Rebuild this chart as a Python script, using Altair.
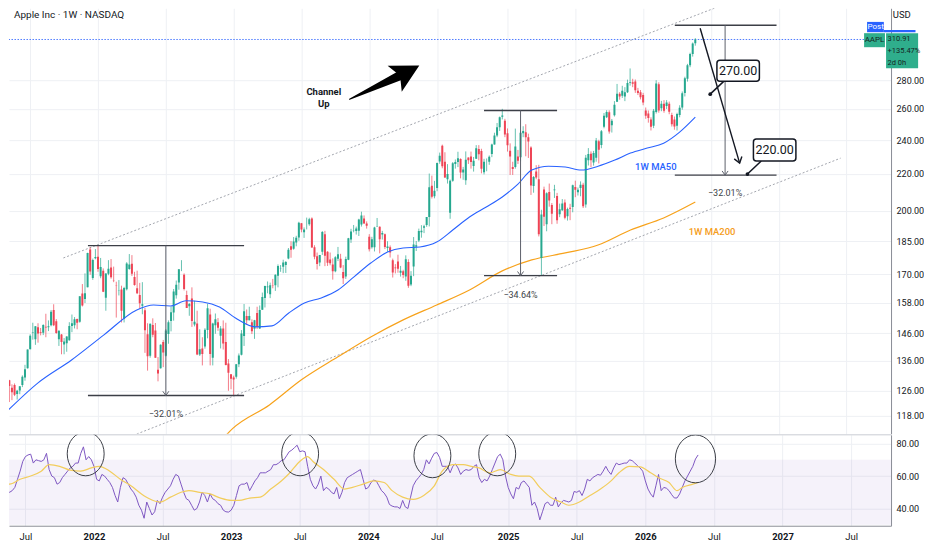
import altair as alt
import pandas as pd

# ---------------------------------------------------------------- data
START = "2021-04-26"  # first weekly bar (Monday)

# weekly bars: (open, high, low, close)
ohlc_2021 = [
    (134.8, 137.1, 131.1, 131.5), (132.0, 134.1, 126.7, 130.2), (129.4, 129.5, 122.3, 127.5),
    (126.9, 128.0, 122.9, 125.4), (127.8, 128.3, 124.2, 124.6), (124.9, 126.2, 123.1, 125.9),
    (126.0, 127.4, 124.8, 127.4), (127.8, 131.0, 127.1, 130.5), (130.3, 134.6, 129.2, 133.1),
    (133.4, 140.0, 133.3, 140.0), (140.1, 145.6, 140.1, 145.1), (146.2, 150.0, 143.6, 146.4),
    (143.8, 148.7, 141.7, 148.6), (148.3, 149.8, 142.5, 145.9), (146.4, 148.0, 145.2, 146.1),
    (146.2, 149.4, 145.3, 149.1), (148.5, 153.5, 144.5, 148.2), (148.3, 150.9, 146.8, 148.6),
    (149.0, 155.0, 148.6, 154.3), (155.0, 157.3, 148.7, 149.0), (150.6, 151.4, 145.8, 146.1),
    (143.8, 147.1, 141.3, 146.9), (145.5, 145.7, 138.3, 142.7), (141.8, 144.2, 138.3, 142.9),
    (142.3, 144.9, 139.2, 144.8), (143.4, 150.2, 143.2, 148.7), (148.7, 153.2, 146.4, 149.8),
    (149.0, 152.2, 147.8, 151.3), (151.4, 151.6, 147.5, 150.0), (150.4, 160.6, 150.0, 160.6),
    (161.7, 165.7, 156.4, 156.8), (159.4, 170.3, 157.8, 161.8), (164.3, 179.6, 164.3, 179.5),
    (181.1, 182.1, 169.7, 171.1), (168.3, 176.9, 167.5, 176.3), (177.1, 181.3, 176.6, 177.6),
]
ohlc_2022 = [
    (177.8, 182.9, 171.0, 172.2), (169.1, 177.2, 168.2, 173.1), (171.5, 172.5, 162.3, 162.4),
    (160.0, 170.4, 154.7, 170.3), (170.2, 176.2, 169.5, 172.4), (172.9, 176.7, 168.0, 168.6),
    (167.4, 173.3, 166.5, 167.3), (165.0, 166.7, 152.0, 164.9), (163.1, 167.4, 160.9, 163.2),
    (163.4, 165.0, 150.1, 154.7), (151.5, 164.5, 150.1, 164.0), (163.5, 175.3, 163.0, 174.7),
    (172.2, 179.0, 171.9, 174.3), (174.6, 178.5, 169.2, 170.1), (168.7, 171.0, 165.0, 165.3),
    (163.9, 171.5, 161.5, 161.8), (161.1, 166.2, 155.4, 157.7), (156.7, 166.5, 153.3, 157.3),
    (154.9, 155.8, 138.8, 147.1), (145.6, 149.8, 132.6, 137.6), (137.8, 149.7, 137.1, 149.6),
    (149.1, 151.7, 144.5, 145.4), (147.0, 149.9, 137.0, 137.1), (132.9, 137.3, 129.0, 131.6),
    (133.4, 141.9, 133.3, 141.7), (142.7, 143.5, 133.8, 138.9), (137.8, 147.6, 137.5, 147.0),
    (145.7, 150.9, 142.1, 150.2), (150.7, 156.3, 146.7, 154.1), (154.0, 163.6, 150.8, 162.5),
    (161.0, 167.2, 159.6, 165.4), (166.4, 172.2, 163.3, 172.1), (171.5, 176.2, 171.3, 171.5),
    (169.7, 170.3, 163.0, 163.6), (161.1, 162.9, 155.8, 155.8), (156.5, 157.8, 152.7, 157.4),
    (159.6, 164.3, 148.4, 150.7), (149.3, 158.7, 148.6, 150.4), (149.7, 154.7, 138.0, 138.2),
    (138.2, 147.5, 137.7, 140.1), (140.4, 144.5, 134.4, 138.4), (141.1, 147.9, 140.3, 147.3),
    (147.2, 157.5, 144.1, 155.7), (153.2, 155.5, 134.4, 138.4), (137.1, 150.0, 134.4, 149.7),
    (149.0, 153.6, 145.8, 151.3), (150.2, 151.8, 146.9, 148.1), (145.1, 148.7, 140.4, 147.8),
    (147.8, 150.9, 140.0, 142.2), (142.7, 150.0, 134.4, 134.5), (135.1, 136.6, 125.9, 131.9),
    (131.4, 131.4, 126.4, 129.9),
]
ohlc_2023 = [
    (130.3, 130.9, 124.2, 129.6), (130.5, 134.9, 129.9, 134.8), (134.8, 138.6, 133.8, 137.9),
    (138.1, 147.2, 137.9, 145.9), (145.0, 157.4, 141.3, 154.5), (152.6, 155.2, 149.2, 151.0),
    (151.0, 156.3, 150.9, 152.6), (150.2, 151.3, 145.7, 146.7), (147.7, 151.1, 143.9, 151.0),
    (153.8, 156.3, 147.6, 148.5), (147.8, 156.8, 147.6, 155.0), (155.1, 162.1, 155.0, 160.3),
    (159.9, 165.0, 156.0, 164.9), (164.3, 166.8, 161.8, 164.7), (161.4, 166.3, 159.8, 165.2),
    (165.1, 167.9, 163.9, 165.0), (165.2, 169.9, 162.8, 169.7), (169.3, 174.3, 164.3, 173.6),
    (172.5, 174.0, 171.0, 172.6), (173.2, 176.4, 170.4, 175.2), (174.0, 175.8, 170.5, 175.4),
    (177.0, 181.8, 176.6, 181.0), (182.6, 185.0, 177.3, 181.0), (181.5, 187.0, 181.0, 184.9),
    (184.4, 187.6, 182.6, 186.7), (186.8, 194.5, 185.2, 194.0), (193.8, 193.9, 189.3, 190.7),
    (189.3, 191.7, 186.6, 190.7), (191.9, 196.6, 190.7, 191.9), (193.3, 196.5, 192.5, 195.8),
    (196.1, 196.7, 181.9, 182.0), (182.1, 183.1, 176.6, 177.8), (178.0, 179.7, 172.0, 174.5),
    (175.1, 178.6, 173.5, 178.6), (180.1, 189.9, 178.6, 189.5), (188.3, 190.0, 173.5, 178.2),
    (180.1, 180.3, 173.6, 175.0), (176.5, 179.7, 173.9, 174.8), (174.2, 177.0, 167.6, 171.2),
    (171.2, 178.0, 170.8, 177.5), (176.8, 182.3, 175.8, 178.9), (176.8, 179.1, 172.6, 172.9),
    (170.9, 174.0, 165.7, 168.2), (169.0, 177.8, 167.9, 176.7), (176.4, 186.6, 176.2, 186.4),
    (185.8, 191.0, 184.2, 189.7), (189.9, 192.9, 189.3, 190.0), (189.9, 192.1, 188.2, 191.2),
    (190.0, 196.0, 187.5, 195.7), (193.1, 199.6, 192.1, 197.6), (196.1, 197.7, 193.5, 193.6),
    (193.6, 194.7, 191.1, 192.5),
]
ohlc_2024 = [
    (187.2, 188.4, 180.2, 181.2), (182.1, 187.1, 181.5, 185.9), (182.2, 192.0, 180.2, 191.6),
    (192.3, 196.4, 191.9, 192.4), (192.0, 192.2, 179.3, 185.9), (188.2, 190.0, 185.8, 188.9),
    (188.4, 188.7, 181.3, 182.3), (181.8, 185.0, 180.0, 182.5), (182.2, 183.0, 177.4, 179.7),
    (176.2, 176.9, 168.5, 170.7), (172.9, 174.4, 170.3, 172.6), (175.6, 178.7, 170.6, 172.3),
    (170.6, 173.6, 168.9, 171.5), (171.2, 171.9, 168.2, 169.6), (169.0, 178.4, 167.1, 176.6),
    (175.4, 176.6, 164.1, 165.0), (165.5, 171.3, 164.8, 169.3), (173.4, 187.0, 169.1, 183.4),
    (182.4, 185.1, 180.4, 183.1), (185.4, 191.1, 184.6, 189.9), (189.3, 192.8, 186.7, 190.0),
    (191.5, 193.0, 188.9, 192.3), (192.9, 196.9, 192.0, 196.9), (196.9, 220.2, 192.2, 212.5),
    (213.4, 219.0, 206.5, 207.5), (207.7, 216.1, 206.6, 210.6), (212.1, 226.5, 210.4, 226.3),
    (227.1, 232.4, 225.8, 230.5), (236.5, 237.2, 223.2, 224.3), (227.0, 232.6, 217.7, 218.0),
    (217.0, 225.6, 214.6, 219.9), (199.1, 216.8, 196.0, 216.2), (216.1, 226.8, 215.6, 226.1),
    (225.7, 228.3, 223.0, 226.8), (226.8, 232.9, 223.9, 229.0), (228.6, 229.0, 217.5, 220.8),
    (220.8, 224.0, 216.7, 222.5), (216.5, 233.1, 213.9, 228.2), (229.5, 229.5, 225.7, 227.8),
    (230.0, 233.0, 223.0, 226.8), (224.5, 229.8, 221.3, 227.6), (228.7, 236.9, 228.6, 235.0),
    (234.5, 236.9, 227.8, 231.4), (233.3, 234.7, 220.3, 222.9), (221.0, 228.7, 219.7, 227.0),
    (225.0, 228.9, 221.5, 225.0), (227.0, 230.7, 225.2, 229.9), (231.5, 237.8, 229.7, 237.3),
    (237.3, 244.6, 237.2, 242.8), (242.9, 250.8, 241.8, 248.1), (248.0, 255.0, 245.7, 254.5),
    (254.8, 260.1, 253.1, 255.6), (252.2, 253.5, 241.8, 243.4),
]
ohlc_2025 = [
    (244.3, 247.3, 233.0, 236.9), (233.5, 238.0, 219.4, 230.0), (224.0, 227.0, 219.4, 222.8),
    (224.0, 247.2, 223.0, 236.0), (230.0, 234.0, 225.7, 227.6), (229.6, 245.6, 227.2, 244.6),
    (244.2, 248.7, 241.8, 245.6), (244.9, 250.0, 230.2, 241.8), (241.8, 244.0, 229.2, 239.1),
    (235.5, 236.2, 208.4, 213.5), (213.3, 218.8, 209.6, 218.3), (221.4, 225.0, 217.0, 217.9),
    (217.0, 225.2, 187.3, 188.4), (177.2, 200.6, 169.2, 198.2), (211.4, 212.9, 192.4, 197.0),
    (193.3, 209.8, 189.8, 209.3), (210.0, 214.6, 202.2, 205.4), (203.1, 204.1, 193.3, 198.5),
    (211.0, 213.9, 206.8, 211.3), (207.9, 209.5, 193.5, 195.3), (198.3, 203.8, 196.8, 200.9),
    (200.3, 206.2, 200.0, 203.9), (204.4, 206.0, 195.7, 196.5), (197.3, 201.7, 195.1, 201.0),
    (201.6, 203.7, 195.3, 201.1), (202.0, 214.0, 199.3, 213.6), (212.7, 216.2, 207.2, 211.2),
    (209.9, 212.4, 208.1, 211.2), (212.1, 215.8, 207.7, 213.9), (214.0, 215.0, 201.5, 202.4),
    (203.4, 231.0, 201.7, 229.4), (227.9, 235.1, 224.8, 231.6), (231.7, 233.1, 223.8, 227.8),
    (226.5, 233.4, 224.7, 232.1), (229.3, 241.3, 227.0, 239.7), (239.3, 240.2, 226.0, 234.1),
    (237.0, 246.3, 235.0, 245.5), (248.3, 257.3, 247.4, 255.5), (254.6, 259.2, 254.0, 258.0),
    (257.9, 259.1, 244.0, 245.3), (249.4, 253.4, 244.7, 252.3), (255.9, 265.3, 255.0, 262.8),
    (264.9, 277.3, 264.7, 270.4), (270.4, 271.5, 266.3, 268.5), (269.0, 276.0, 267.5, 272.4),
    (268.5, 275.0, 265.3, 271.5), (271.5, 280.4, 270.9, 278.0), (278.0, 288.6, 276.1, 278.6),
    (278.5, 281.0, 275.0, 277.5), (279.0, 280.5, 271.0, 272.8), (272.5, 274.5, 269.5, 271.0),
    (271.5, 273.0, 266.5, 268.0),
]
ohlc_2026 = [
    (269.5, 271.0, 262.5, 264.3), (259.0, 261.0, 253.5, 255.5), (257.0, 259.0, 251.0, 254.0),
    (253.0, 254.5, 246.0, 248.3), (249.0, 260.0, 247.5, 258.8), (258.0, 280.0, 257.0, 277.7),
    (277.0, 278.5, 257.5, 259.0), (260.5, 265.5, 258.5, 263.6), (263.5, 266.0, 257.5, 258.8),
    (262.0, 266.0, 260.0, 264.3), (263.6, 265.0, 256.5, 258.1), (256.0, 257.5, 248.5, 250.0),
    (253.0, 255.0, 246.5, 248.5), (249.0, 257.5, 246.0, 256.7), (256.0, 262.5, 254.5, 260.9),
    (261.0, 272.0, 259.5, 270.8), (271.0, 282.5, 268.5, 281.4), (281.0, 292.0, 279.0, 291.0),
    (291.0, 300.5, 289.5, 299.5), (299.5, 308.5, 297.5, 307.8), (308.0, 312.0, 306.0, 310.91),
]

# weekly RSI(14), one value per bar
rsi_weekly = [
    57, 55, 52, 51, 50, 51, 53, 58, 63, 69,
    72, 73, 73.5, 68, 70, 69.5, 69, 70, 74, 64,
    60, 59, 55, 56, 59, 61, 63, 65, 66, 68,
    68, 74, 78, 70, 72, 70, 66, 58, 57, 61,
    60, 58, 56, 53, 48, 44, 53, 59, 58, 55,
    52, 50, 47, 42, 39, 34, 44, 40, 36, 38,
    45, 43, 47, 50, 52, 54, 58, 61, 60, 55,
    50, 46, 45, 42, 39, 40, 44, 50, 48, 44,
    49, 46, 45, 43, 42, 39, 38, 37.8, 39, 42,
    48, 54, 55, 55, 56, 51, 54, 57, 59, 62,
    62, 62, 63, 64, 67, 67, 68, 69.5, 70, 72.5,
    75, 76, 77.5, 79, 75, 75.5, 75, 66, 58, 54,
    52, 55, 60, 51, 53, 52, 50, 49, 53, 46,
    50, 56, 59, 60, 61, 62, 63, 64, 58, 52,
    53, 56, 57.5, 57, 54, 51, 49.5, 47, 42.5, 41.5,
    41, 41, 40, 45, 41, 40, 47, 54, 57, 59,
    61, 64, 70, 67.5, 71, 74, 74.5, 71.5, 66, 66,
    66, 62, 66, 67.5, 65, 61, 63, 64, 63.5, 64,
    66, 67, 59, 56, 58, 57, 60, 64, 68, 72,
    73.5, 70, 60, 53, 49, 46, 53, 52, 56, 57,
    55, 53, 42, 44, 40, 33, 38, 43, 44, 42,
    42, 47, 41, 43.5, 45, 44.5, 44, 45, 50.5, 50,
    51, 48, 52, 58, 57, 59, 60, 61, 60.5, 63,
    66, 63, 61, 65, 68, 67, 67.5, 68, 68, 70,
    69.5, 68, 66.5, 65, 63, 57, 52, 49, 47, 54,
    61, 51, 53, 52.5, 51, 48.5, 46.5, 46.5, 49, 53,
    57, 60, 63, 66, 70.5, 73,
]

# RSI-based moving average (bar index, value)
rsi_ma_weeks = [0, 4, 8, 12, 16, 19, 23, 27, 31, 35, 38, 42, 46, 50, 54, 57, 61, 65, 69, 72,
                76, 80, 84, 88, 91, 95, 99, 103, 107, 110, 114, 117, 119, 123, 127, 131, 134,
                138, 142, 146, 149, 153, 157, 161, 165, 168, 172, 176, 179, 182, 186, 190,
                194, 197, 201, 205, 209, 213, 216, 220, 224, 228, 232, 235, 239, 243, 247,
                250, 254, 257, 259, 263, 265]
rsi_ma_values = [57, 55, 58, 60, 63, 67, 66, 63.6, 63, 65, 66, 63, 58, 54, 49, 46, 44, 47, 50, 51,
                 50, 49, 46.4, 45, 45, 46.4, 47, 52, 57, 61.6, 69, 72, 69, 64, 58, 52, 53,
                 55, 57, 56, 51, 47, 45.6, 48, 54, 63, 67, 67, 66, 65, 62, 64,
                 61, 60, 60, 53, 47, 44, 42, 44, 48, 52, 57, 62, 66, 65.7, 62,
                 59, 56, 51, 53, 55, 56]

# 1W MA50 and MA200
ma50_dates = ["2021-04-30", "2021-07-26", "2021-10-24", "2022-01-19", "2022-04-17", "2022-06-01",
              "2022-07-16", "2022-08-27", "2022-10-11", "2022-11-25", "2023-01-07", "2023-03-01",
              "2023-04-15", "2023-05-30", "2023-07-11", "2023-08-25", "2023-10-09", "2023-11-21",
              "2024-01-05", "2024-02-19", "2024-04-01", "2024-05-16", "2024-06-30", "2024-08-12",
              "2024-09-26", "2024-11-10", "2024-12-23", "2025-02-03", "2025-03-12", "2025-04-26",
              "2025-06-10", "2025-07-23", "2025-09-06", "2025-10-21", "2025-12-02", "2026-01-16",
              "2026-03-01", "2026-04-13", "2026-05-25"]
ma50_values = [119.0, 128.5, 136.3, 145.4, 155.0, 157.0, 156.6, 158.7, 158.2, 156.2, 151.8, 148.4,
               148.8, 153.8, 157.8, 159.9, 163.2, 168.8, 174.9, 179.9, 181.8, 182.3, 184.6, 190.4,
               196.9, 202.0, 207.3, 214.3, 222.2, 224.4, 223.9, 222.2, 224.4, 228.0, 232.1, 235.1,
               238.1, 245.0, 254.6]
ma200_dates = ["2022-12-10", "2022-12-30", "2023-04-08", "2023-07-03", "2023-10-09", "2024-01-05",
               "2024-04-01", "2024-06-30", "2024-09-26", "2024-12-23", "2025-03-12", "2025-06-10",
               "2025-09-06", "2025-12-02", "2026-03-01", "2026-05-25"]
ma200_values = [112.0, 114.2, 121.4, 129.5, 137.4, 144.6, 151.1, 157.0, 163.2, 171.4, 176.3, 179.5,
                183.2, 190.4, 196.4, 204.6]

price_ticks = [118, 126, 136, 146, 158, 170, 185, 200, 220, 240, 260, 280]
rsi_ticks = [40, 60, 80]
last_price = 310.91

# drawings (dates / prices)
channel_ids = ["upper", "upper", "lower", "lower"]
channel_dates = ["2021-10-02", "2026-11-11", "2022-03-28", "2027-06-19"]
channel_prices = [177.2, 352.0, 111.8, 229.1]

measure_start = ["2021-12-07", "2024-11-04", "2026-03-31"]
measure_end = ["2023-01-30", "2025-05-19", "2026-12-29"]
measure_mid = ["2022-07-04", "2025-02-10", "2026-08-13"]
measure_top = [182.94, 259.0, 322.5]
measure_bottom = [124.38, 169.3, 219.3]
measure_label_price = [118.7, 161.1, 209.4]
measure_labels = ["\u221232.01%", "\u221234.64%", "\u221232.01%"]

proj_dates = ["2026-06-07", "2026-09-21"]
proj_prices = [320.0, 226.2]

callout_text = ["270.00", "220.00"]
callout_x1 = ["2026-07-22", "2026-10-28"]
callout_x2 = ["2026-11-13", "2027-02-19"]
callout_p1 = [279.3, 227.4]
callout_p2 = [294.8, 240.6]
callout_tx = ["2026-09-17", "2026-12-24"]
callout_tp = [286.9, 233.9]
callout_dot_x = ["2026-07-04", "2026-10-12"]
callout_dot_p = [270.1, 219.9]
callout_tail_x = ["2026-08-10", "2026-11-18"]

arrow_dates = ["2023-11-09", "2024-04-03"]
arrow_prices = [266.6, 284.7]
arrow_widths = [1.0, 10.0]

circle_dates = ["2021-12-12", "2023-07-04", "2024-06-19", "2024-12-08", "2026-05-18"]
circle_rsi = [73.7, 73.7, 72.5, 73.7, 70.6]
circle_sizes = [1936, 1936, 1936, 1936, 2304]

x_tick_days = [(2021, 7, 5), (2022, 1, 3), (2022, 7, 4), (2023, 1, 2), (2023, 7, 3), (2024, 1, 1),
               (2024, 7, 1), (2025, 1, 6), (2025, 7, 7), (2026, 1, 5), (2026, 7, 6), (2027, 1, 4),
               (2027, 7, 5)]

# ---------------------------------------------------------------- frames
D = pd.to_datetime
rows = ohlc_2021 + ohlc_2022 + ohlc_2023 + ohlc_2024 + ohlc_2025 + ohlc_2026
candles = pd.DataFrame(rows, columns=["open", "high", "low", "close"])
candles["date"] = pd.date_range(START, periods=len(rows), freq="7D")

rsi_df = pd.DataFrame({"date": pd.date_range(START, periods=len(rsi_weekly), freq="7D"),
                       "rsi": rsi_weekly})
rsi_ma_df = pd.DataFrame({"date": [D(START) + pd.Timedelta(weeks=w) for w in rsi_ma_weeks],
                          "v": rsi_ma_values})
ma50_df = pd.DataFrame({"date": D(ma50_dates), "p": ma50_values})
ma200_df = pd.DataFrame({"date": D(ma200_dates), "p": ma200_values})
channel_df = pd.DataFrame({"id": channel_ids, "date": D(channel_dates), "p": channel_prices})

meas_h = pd.DataFrame({"d1": D(measure_start * 2), "d2": D(measure_end * 2),
                       "p": measure_top + measure_bottom})
meas_v = pd.DataFrame({"d": D(measure_mid), "p1": measure_top, "p2": measure_bottom})
meas_lbl = pd.DataFrame({"d": D(measure_mid), "p": measure_label_price, "t": measure_labels})
proj_df = pd.DataFrame({"d1": [D(proj_dates[0])], "d2": [D(proj_dates[1])],
                        "p1": [proj_prices[0]], "p2": [proj_prices[1]]})
proj_head = pd.DataFrame({"d": [D(proj_dates[1])], "p": [proj_prices[1]]})
call_box = pd.DataFrame({"d1": D(callout_x1), "d2": D(callout_x2), "p1": callout_p1, "p2": callout_p2})
call_txt = pd.DataFrame({"d": D(callout_tx), "p": callout_tp, "t": callout_text})
call_tail = pd.DataFrame({"d1": D(callout_dot_x), "d2": D(callout_tail_x),
                          "p1": callout_dot_p, "p2": callout_p1})
call_dot = pd.DataFrame({"d": D(callout_dot_x), "p": callout_dot_p})
arrow_df = pd.DataFrame({"d": D(arrow_dates), "p": arrow_prices, "w": arrow_widths})
arrow_head = pd.DataFrame({"d": [D(arrow_dates[1])], "p": [arrow_prices[1]]})
chan_txt = pd.DataFrame({"d": D(["2023-09-01", "2023-09-01"]), "p": [271.8, 263.6],
                         "t": ["Channel", "Up"]})
ma_lbl = pd.DataFrame({"d": D(["2026-02-08", "2026-07-09"]), "p": [223.9, 189.4],
                       "t": ["1W MA50", "1W MA200"], "c": ["#2962ff", "#f59d1c"]})
last_df = pd.DataFrame({"p": [last_price]})
side_box = pd.DataFrame({
    "d1": D(["2027-08-29", "2027-10-13", "2027-08-21", "2027-10-19"]),
    "d2": D(["2027-10-13", "2028-01-06", "2027-10-16", "2028-01-13"]),
    "p1": [316.8, 316.8, 304.8, 288.8], "p2": [325.3, 318.5, 316.0, 316.0],
    "c": ["#2962ff", "#2962ff", "#2fae8c", "#2fae8c"]})
side_center = pd.DataFrame({"d": D(["2027-09-21", "2027-09-18", "2027-11-30"]),
                            "p": [321.4, 310.3, 330.9], "t": ["Post", "AAPL", "USD"],
                            "c": ["white", "#15251f", "#131722"], "s": [8, 8, 9.5]})
side_left = pd.DataFrame({"d": D(["2027-10-23"] * 3), "p": [311.1, 301.7, 292.5],
                          "t": [f"{last_price:.2f}", "+135.47%", "2d 0h"]})
title_df = pd.DataFrame({"d": D(["2021-05-22T12:00"]), "p": [330.9],
                         "t": ["Apple Inc \u00b7 1W \u00b7 NASDAQ"]})
circle_df = pd.DataFrame({"d": D(circle_dates), "r": circle_rsi, "s": circle_sizes})
sep_df = pd.DataFrame({"r": [85.4]})

# ---------------------------------------------------------------- styling
FONT = "Roboto"
INK = "#131722"
GRID = "#eef0f4"
UP, DOWN = "#26a88f", "#ee4455"

x_domain = [alt.DateTime(year=2021, month=5, date=22, hours=12),
            alt.DateTime(year=2027, month=10, date=18, hours=22)]
x_vals = [alt.DateTime(year=y, month=m, date=d) for (y, m, d) in x_tick_days]
xscale = alt.Scale(domain=x_domain, nice=False)
yscale = alt.Scale(type="log", domain=[112.7, 336.9], nice=False)
rscale = alt.Scale(domain=[29.4, 85.4], nice=False, zero=False)

ax_px = alt.Axis(values=x_vals, labels=False, ticks=False, domain=False,
                 grid=True, gridColor=GRID, title=None)
ax_rx = alt.Axis(values=x_vals, ticks=False, domain=True, domainColor="#8a8d96", grid=True,
                 gridColor=GRID, title=None, labelFont=FONT, labelFontSize=9.5,
                 labelColor=INK, labelPadding=6,
                 labelExpr="month(datum.value) == 0 ? timeFormat(datum.value, '%Y') : 'Jul'",
                 labelFontWeight={"condition": {"test": "month(datum.value) == 0", "value": "bold"},
                                  "value": "normal"})
ax_py = alt.Axis(orient="right", values=price_ticks, format=".2f", ticks=False, domain=True,
                 domainColor="#8a8d96", grid=True, gridColor=GRID, title=None, labelFont=FONT,
                 labelFontSize=9, labelColor=INK, labelPadding=5)
ax_ry = alt.Axis(orient="right", values=rsi_ticks, format=".2f", ticks=False, domain=True,
                 domainColor="#8a8d96", grid=True, gridColor=GRID, title=None, labelFont=FONT,
                 labelFontSize=9, labelColor=INK, labelPadding=5)


def PX(f):
    return alt.X(f"{f}:T", scale=xscale, axis=ax_px)


def PY(f):
    return alt.Y(f"{f}:Q", scale=yscale, axis=ax_py)


def RX(f):
    return alt.X(f"{f}:T", scale=xscale, axis=ax_rx)


def RY(f):
    return alt.Y(f"{f}:Q", scale=rscale, axis=ax_ry)


V_PATH = "M-1,-1.4L0,0L1,-1.4"
HEAD_PATH = "M1,0L-0.6,-0.85L-0.25,0L-0.6,0.85Z"
ELLIPSE = "M-0.84,0A0.84,1 0 1,1 0.84,0A0.84,1 0 1,1 -0.84,0Z"

# ---------------------------------------------------------------- price pane
last_line = alt.Chart(last_df).mark_rule(color="#4f7cff", strokeDash=[1.5, 1.5], strokeWidth=1,
                                          opacity=1).encode(y=PY("p"))
channels = alt.Chart(channel_df).mark_line(color="#a3a6ae", strokeDash=[2, 2], strokeWidth=1,
                                           clip=True).encode(x=PX("date"), y=PY("p"), detail="id:N")
ma200 = alt.Chart(ma200_df).mark_line(color="#f7a21b", strokeWidth=1.2, interpolate="monotone",
                                      clip=True).encode(x=PX("date"), y=PY("p"))
candle_color = alt.condition("datum.close >= datum.open", alt.value(UP), alt.value(DOWN))
wicks = alt.Chart(candles).mark_rule(strokeWidth=1, opacity=0.7, clip=True).encode(
    x=PX("date"), y=PY("low"), y2="high", color=candle_color)
bodies = alt.Chart(candles).mark_bar(size=2, clip=True).encode(
    x=PX("date"), y=PY("open"), y2="close", color=candle_color)
ma50 = alt.Chart(ma50_df).mark_line(color="#2962ff", strokeWidth=1.1, interpolate="monotone",
                                    clip=True).encode(x=PX("date"), y=PY("p"))

mh = alt.Chart(meas_h).mark_rule(color="#3c3f47", strokeWidth=1.3).encode(
    x=PX("d1"), x2="d2", y=PY("p"))
mv = alt.Chart(meas_v).mark_rule(color="#5d606b", strokeWidth=1).encode(
    x=PX("d"), y=PY("p1"), y2="p2")
mhead = alt.Chart(meas_v).mark_point(shape=V_PATH, filled=False, size=36, color="#5d606b",
                                     strokeWidth=1, opacity=1).encode(x=PX("d"), y=PY("p2"))
mlbl = alt.Chart(meas_lbl).mark_text(font=FONT, fontSize=9, color="#3c3f47").encode(
    x=PX("d"), y=PY("p"), text="t:N")

proj = alt.Chart(proj_df).mark_rule(color="#131722", strokeWidth=1.4).encode(
    x=PX("d1"), x2="d2", y=PY("p1"), y2="p2")
projh = alt.Chart(proj_head).mark_point(shape=V_PATH, filled=False, size=64, color="#131722",
                                        strokeWidth=1.4, opacity=1, angle=343.5).encode(
    x=PX("d"), y=PY("p"))

ctail = alt.Chart(call_tail).mark_rule(color="#131722", strokeWidth=1.5).encode(
    x=PX("d1"), x2="d2", y=PY("p1"), y2="p2")
cdot = alt.Chart(call_dot).mark_point(filled=True, size=14, color="#131722", opacity=1).encode(
    x=PX("d"), y=PY("p"))
cbox = alt.Chart(call_box).mark_rect(fill="white", stroke="#131722", strokeWidth=1.5,
                                     cornerRadius=3).encode(x=PX("d1"), x2="d2", y=PY("p1"), y2="p2")
ctext = alt.Chart(call_txt).mark_text(font=FONT, fontSize=12.5, color="#131722").encode(
    x=PX("d"), y=PY("p"), text="t:N")

trail = alt.Chart(arrow_df).mark_trail(color="#000000").encode(
    x=PX("d"), y=PY("p"), size=alt.Size("w:Q", scale=None, legend=None))
trail_head = alt.Chart(arrow_head).mark_point(shape=HEAD_PATH, filled=True, size=1225,
                                              color="#000000", opacity=1, angle=331.6).encode(
    x=PX("d"), y=PY("p"))
ctxt = alt.Chart(chan_txt).mark_text(font=FONT, fontSize=9.5, fontWeight="bold",
                                     color="#131722").encode(x=PX("d"), y=PY("p"), text="t:N")
malbl = alt.Chart(ma_lbl).mark_text(font=FONT, fontSize=9.5, fontWeight=500).encode(
    x=PX("d"), y=PY("p"), text="t:N", color=alt.Color("c:N", scale=None))

sbox = alt.Chart(side_box).mark_rect().encode(
    x=PX("d1"), x2="d2", y=PY("p1"), y2="p2", color=alt.Color("c:N", scale=None))
stxt_c = alt.Chart(side_center).mark_text(font=FONT).encode(
    x=PX("d"), y=PY("p"), text="t:N", color=alt.Color("c:N", scale=None),
    size=alt.Size("s:Q", scale=None, legend=None))
stxt_l = alt.Chart(side_left).mark_text(font=FONT, fontSize=7.5, align="left",
                                        color="#15251f").encode(x=PX("d"), y=PY("p"), text="t:N")
title = alt.Chart(title_df).mark_text(font=FONT, fontSize=10, align="left",
                                      color=INK).encode(x=PX("d"), y=PY("p"), text="t:N")

price = alt.layer(
    last_line, channels, ma200, wicks, bodies, ma50, mh, mv, mhead, mlbl, proj, projh,
    ctail, cbox, cdot, ctext, trail, trail_head, ctxt, malbl, sbox, stxt_c, stxt_l, title,
).properties(width=883, height=426)

# ---------------------------------------------------------------- RSI pane
band = alt.Chart(pd.DataFrame({"a": [70], "b": [30]})).mark_rect(
    color="#7e57c2", opacity=0.08).encode(y=RY("a"), y2="b")
sep = alt.Chart(sep_df).mark_rule(color="#c9ccd3", strokeWidth=1).encode(y=RY("r"))
rsi_line = alt.Chart(rsi_df).mark_line(color="#7e57c2", strokeWidth=1, clip=True).encode(
    x=RX("date"), y=RY("rsi"))
rsi_ma = alt.Chart(rsi_ma_df).mark_line(color="#f2cd5c", strokeWidth=1.2, clip=True,
                                        interpolate="monotone").encode(x=RX("date"), y=RY("v"))
circles = alt.Chart(circle_df).mark_point(shape=ELLIPSE, filled=False, color="#3c3f47",
                                          strokeWidth=1, opacity=1, clip=True).encode(
    x=RX("d"), y=RY("r"), size=alt.Size("s:Q", scale=None, legend=None))

rsi = alt.layer(band, sep, rsi_line, rsi_ma, circles).properties(width=883, height=91)

chart = alt.vconcat(price, rsi, spacing=0).properties(
    padding=0,
    background="white",
).configure_view(stroke=None)

chart.save("out.html", embed_options={"renderer": "svg", "actions": False})
